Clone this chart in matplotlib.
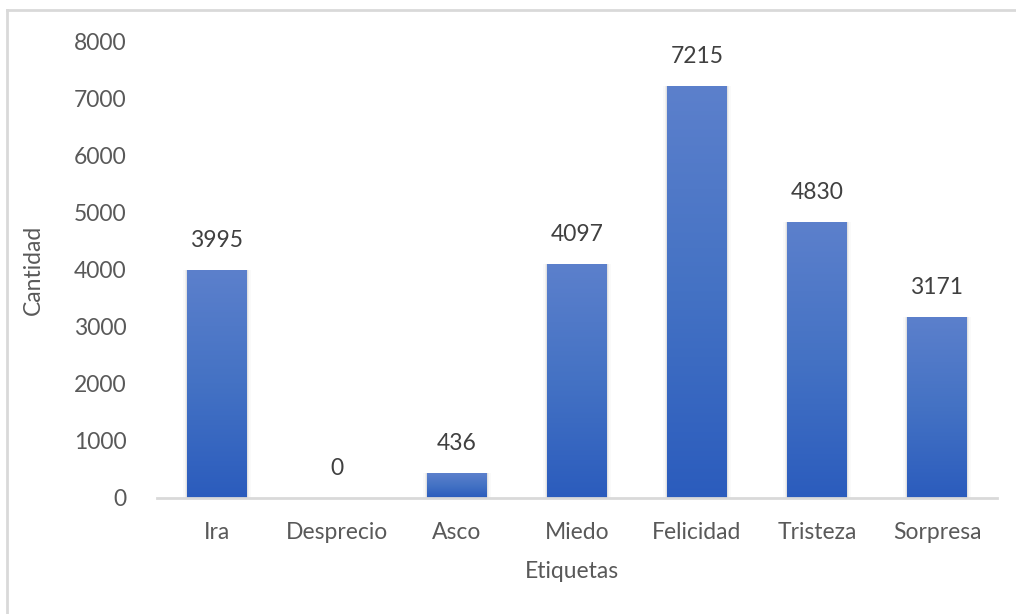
import numpy as np
import matplotlib
matplotlib.use("Agg")
import matplotlib.pyplot as plt
from matplotlib.patches import Rectangle
from matplotlib.lines import Line2D
from matplotlib.colors import LinearSegmentedColormap

categories = ["Ira", "Desprecio", "Asco", "Miedo", "Felicidad", "Tristeza", "Sorpresa"]
counts = [3995, 0, 436, 4097, 7215, 4830, 3171]
yticks = [0, 1000, 2000, 3000, 4000, 5000, 6000, 7000, 8000]

plt.rcParams['font.family'] = ['Lato', 'DejaVu Sans']
text_color = "#595959"
fs = 16.5

W, H = 1016, 614
fig = plt.figure(figsize=(W / 100, H / 100), dpi=100)
fig.patch.set_facecolor("white")

# chart-area frame (left and top edges)
frame_kw = dict(transform=fig.transFigure, color="#d9d9d9", linewidth=2, zorder=0)
fig.add_artist(Line2D([7 / W, 7 / W], [0, 1 - 10 / H], **frame_kw))
fig.add_artist(Line2D([7 / W, 1], [1 - 10 / H, 1 - 10 / H], **frame_kw))

left, right = 157 / W, 997 / W
bottom, top = 1 - 498 / H, 1 - 41 / H
ax = fig.add_axes([left, bottom, right - left, top - bottom])
ax.set_facecolor("none")

x = np.arange(len(categories))
cmap = LinearSegmentedColormap.from_list("bar", ["#2b5cbd", "#4472c4", "#5c80cc"])
grad = np.linspace(0, 1, 256).reshape(-1, 1)
width = 0.5

bars = ax.bar(x, counts, width=width, color="#4472c4", zorder=2)
for b, v in zip(bars, counts):
    if v > 0:
        # soft shadow along the sides of each bar
        for i, a in enumerate([0.06, 0.04, 0.02]):
            pad = 0.01 * (i + 1)
            ax.add_patch(Rectangle((b.get_x() - pad, 0), b.get_width() + 2 * pad, v,
                                   facecolor="black", alpha=a, linewidth=0, zorder=1))
        # vertical gradient fill, clipped to the bar
        im = ax.imshow(grad, extent=(b.get_x(), b.get_x() + b.get_width(), 0, v),
                       origin="lower", cmap=cmap, aspect="auto", zorder=3)
        im.set_clip_path(b)
    ax.text(b.get_x() + b.get_width() / 2, v + 330, f"{v}", ha="center", va="bottom",
            fontsize=fs, color="#404040", zorder=4)

ax.set_aspect("auto")
ax.set_xlim(-0.5, len(categories) - 0.5)
ax.set_ylim(0, 8000)

for s in ["top", "right", "left"]:
    ax.spines[s].set_visible(False)
ax.spines["bottom"].set_color("#d9d9d9")
ax.spines["bottom"].set_linewidth(2)
ax.spines["bottom"].set_zorder(5)

ax.set_xticks(x)
ax.set_xticklabels(categories)
ax.set_yticks(yticks)
ax.tick_params(axis="both", length=0, labelsize=fs, colors=text_color)
ax.tick_params(axis="x", pad=17)
ax.tick_params(axis="y", pad=22)

ax.set_xlabel("Etiquetas", fontsize=fs, color=text_color)
ax.set_ylabel("Cantidad", fontsize=fs, color=text_color)
ax.xaxis.set_label_coords((572 - 157) / 840, -(572 - 498) / 457)
ax.xaxis.label.set_va("center")
ax.yaxis.set_label_coords(-(157 - 33) / 840, (498 - 270) / 457)
ax.yaxis.label.set_va("center")

fig.savefig("out.png", dpi=100, facecolor="white")
